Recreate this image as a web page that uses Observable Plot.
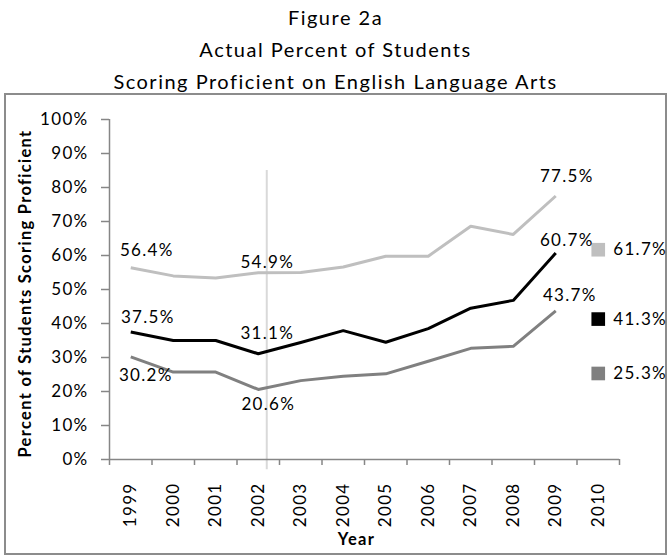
<!DOCTYPE html>
<html>
<head>
<meta charset="utf-8">
<script src="https://cdn.jsdelivr.net/npm/d3@7"></script>
<script src="https://cdn.jsdelivr.net/npm/@observablehq/plot@0.6"></script>
<style>
  html, body { margin: 0; padding: 0; background: #fff; }
  body { width: 671px; height: 557px; overflow: hidden; font-family: Lato, "Open Sans", sans-serif; }
  #title { height: 93px; box-sizing: border-box; padding-top: 1px; text-align: center;
           font-size: 20px; line-height: 32px; letter-spacing: 1.5px; color: #000; }
  #frame { position: absolute; left: 4px; top: 93px; width: 663px; height: 462px;
           border: 2px solid #8c8c8c; box-sizing: border-box; }
  #frame svg { position: absolute; left: 0; top: 0; overflow: visible; }
  #frame svg text { letter-spacing: 1.3px; }
</style>
</head>
<body>
<div id="title">Figure 2a<br>Actual Percent of Students<br>Scoring Proficient on English Language Arts</div>
<div id="frame"></div>
<script>
// ---- data ----
const years = [1999, 2000, 2001, 2002, 2003, 2004, 2005, 2006, 2007, 2008, 2009];
const axisYears = [1999, 2000, 2001, 2002, 2003, 2004, 2005, 2006, 2007, 2008, 2009, 2010];
const upperValues  = [56.4, 54.0, 53.4, 54.9, 55.0, 56.6, 59.8, 59.8, 68.6, 66.2, 77.5];
const middleValues = [37.5, 35.0, 35.0, 31.1, 34.4, 37.9, 34.5, 38.5, 44.5, 46.8, 60.7];
const lowerValues  = [30.2, 25.7, 25.7, 20.6, 23.2, 24.5, 25.2, 28.9, 32.7, 33.3, 43.7];
const targetYear = 2010;
const targetValues = [61.7, 41.3, 25.3];   // upper, middle, lower
const yTicks = [0, 10, 20, 30, 40, 50, 60, 70, 80, 90, 100];
const labeledYears = [1999, 2002, 2009];
const markerYear = 2002.2;                  // light vertical reference line
const markerRange = [85, -3];
const xTitle = "Year";
const yTitle = "Percent of Students Scoring Proficient";

// ---- styles ----
const seriesColors = ["#bfbfbf", "#000000", "#808080"];
const seriesValues = [upperValues, middleValues, lowerValues];
// label offsets [dx, dy] per series per labeled year
const labelOffsets = [
  [[16, -17], [9, -10], [11, -19]],
  [[17, -14], [9, -20], [11, -13]],
  [[15, 19], [10, 15], [14, -15]]
];

const rows = [];
seriesValues.forEach((vals, s) => years.forEach((y, i) => rows.push({s, year: y, value: vals[i]})));
const targets = targetValues.map((v, s) => ({s, year: targetYear, value: v}));
const fmt = v => v.toFixed(1) + "%";

const labelMarks = [];
seriesValues.forEach((vals, s) => {
  labeledYears.forEach((ly, j) => {
    const i = years.indexOf(ly);
    const [dx, dy] = labelOffsets[s][j];
    labelMarks.push(Plot.text([{year: ly, value: vals[i]}], {
      x: "year", y: "value", text: d => fmt(d.value), dx, dy,
      fill: "#000", fontSize: 17
    }));
  });
});

const halfTicks = d3.range(axisYears[0] - 0.5, axisYears[axisYears.length - 1] + 0.51, 1);

const chart = Plot.plot({
  width: 659,
  height: 458,
  marginLeft: 103,
  marginRight: 46,
  marginTop: 24,
  marginBottom: 94,
  style: {fontFamily: "Lato, 'Open Sans', sans-serif", fontSize: "17px", color: "#000", background: "transparent", overflow: "visible"},
  x: {type: "linear", domain: [axisYears[0] - 0.5, axisYears[axisYears.length - 1] + 0.5], axis: null},
  y: {domain: [0, 100], axis: null},
  marks: [
    Plot.ruleX([markerYear], {y1: markerRange[0], y2: markerRange[1], stroke: "#d9d9d9", strokeWidth: 2}),
    Plot.axisY({ticks: yTicks, tickSize: 8, tickPadding: 13, tickFormat: d => d + "%", label: null,
                stroke: "#868686", strokeWidth: 1.5, fill: "#000", fontSize: 17}),
    Plot.axisX({ticks: halfTicks, tickSize: 6, stroke: "#868686", strokeWidth: 1.5, fill: "none", label: null}),
    Plot.ruleX([axisYears[0] - 0.5], {y1: 0, y2: 100, stroke: "#868686", strokeWidth: 1.5}),
    Plot.ruleY([0], {x1: axisYears[0] - 0.5, x2: axisYears[axisYears.length - 1] + 0.5, stroke: "#868686", strokeWidth: 1.5}),
    Plot.text(axisYears, {x: d => d, frameAnchor: "bottom", text: d => String(d), rotate: -90,
                          textAnchor: "end", lineAnchor: "middle", dy: 23, fontSize: 17}),
    Plot.text([xTitle], {frameAnchor: "bottom", dy: 85, dx: -8, text: d => d, fontWeight: "bold", fontSize: 16.5}),
    Plot.text([yTitle], {frameAnchor: "left", dx: -84, dy: 4, rotate: -90, textAnchor: "middle",
                          text: d => d, fontWeight: "bold", fontSize: 16.5}),
    Plot.line(rows, {x: "year", y: "value", z: "s", stroke: d => seriesColors[d.s], strokeWidth: 3,
                     strokeLinejoin: "round", strokeLinecap: "butt"}),
    Plot.dot(targets, {x: "year", y: "value", symbol: "square", r: 7.7, fill: d => seriesColors[d.s], stroke: "none"}),
    Plot.text(targets, {x: "year", y: "value", text: d => fmt(d.value), dx: 15, textAnchor: "start", fontSize: 17}),
    ...labelMarks
  ]
});
document.getElementById("frame").appendChild(chart);
</script>
</body>
</html>
